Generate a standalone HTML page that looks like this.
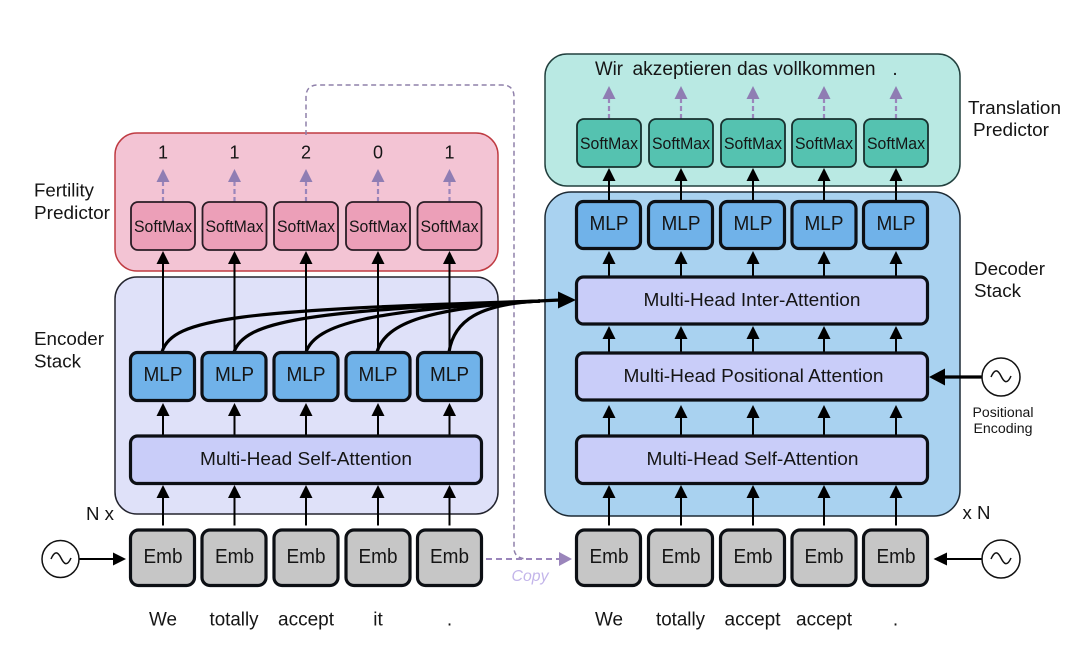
<!DOCTYPE html>
<html><head><meta charset="utf-8"><style>
html,body{margin:0;padding:0;background:#fff}
svg{display:block}
text{font-family:"Liberation Sans",Arial,sans-serif;fill:#151515;text-anchor:middle;dominant-baseline:central}
.l{text-anchor:start}
</style></head><body>
<svg width="1080" height="645" viewBox="0 0 1080 645" xmlns="http://www.w3.org/2000/svg">
<defs>
<path id="u" d="M-6.500 13L0 0L6.500 13Z" fill="#000"/>
<path id="p" d="M-6.500 13L0 0L6.500 13Z" fill="#8f7db3"/>
</defs>
<rect width="1080" height="645" fill="#fff"/>

<!-- containers -->
<rect x="115" y="133" width="383" height="138" rx="22" fill="#f3c4d4" stroke="#bf3b42" stroke-width="1.500"/>
<rect x="115" y="277" width="383" height="237" rx="22" fill="#dfe1f9" stroke="#23242e" stroke-width="1.500"/>
<rect x="545" y="54" width="415" height="132" rx="22" fill="#b9e9e3" stroke="#22403e" stroke-width="1.500"/>
<rect x="545" y="192" width="415" height="324" rx="26" fill="#a9d2f0" stroke="#1d2a35" stroke-width="1.500"/>

<!-- dashed copy path -->
<path d="M306 135V97Q306 85 318 85H502Q514 85 514 97V548Q514 558 526 559" fill="none" stroke="#8f80aa" stroke-width="1.500" stroke-dasharray="5 3.500"/>
<path d="M486 559H560" fill="none" stroke="#9a85bb" stroke-width="2" stroke-dasharray="6 4"/>
<path d="M559 552L572 559L559 566Z" fill="#9a85bb"/>

<!-- vertical arrows -->
<g stroke="#000" stroke-width="2" fill="none">
<path d="M163 260V352M234.500 260V352M306 260V352M378 260V352M449.500 260V352"/>
<path d="M163 412V436M234.500 412V436M306 412V436M378 412V436M449.500 412V436"/>
<path d="M163 495V525.500M234.500 495V525.500M306 495V525.500M378 495V525.500M449.500 495V525.500"/>
<path d="M609 178V202M681 178V202M753 178V202M824 178V202M896 178V202"/>
<path d="M609 260V277M681 260V277M753 260V277M824 260V277M896 260V277"/>
<path d="M609 336V353M681 336V353M753 336V353M824 336V353M896 336V353"/>
<path d="M609 415V436M681 415V436M753 415V436M824 415V436M896 415V436"/>
<path d="M609 495V525.500M681 495V525.500M753 495V525.500M824 495V525.500M896 495V525.500"/>
<path d="M79 559H115M947 559H982"/>
</g>
<!-- purple dashes -->
<g stroke="#9a85bb" stroke-width="2.200" fill="none" stroke-dasharray="5 3">
<path d="M163 181V202M234.500 181V202M306 181V202M378 181V202M449.500 181V202"/>
<path d="M609 98V119M681 98V119M753 98V119M824 98V119M896 98V119"/>
</g>

<!-- curves -->
<g stroke="#000" stroke-width="3.200" fill="none">
<path d="M162 352C172 318 240 310 540 301"/>
<path d="M234 352C245 322 300 311 540 301"/>
<path d="M306 352C316 324 370 310 540 301"/>
<path d="M377 352C386 322 430 308 540 301"/>
<path d="M449 352C454 320 480 304 540 301"/>
<path d="M538 301L560 300"/>
<path d="M944 377H982"/>
</g>
<path d="M558 291.500L576 300L558 308.500Z" fill="#000"/>
<path d="M929 377L945 368.500V385.500Z" fill="#000"/>
<path d="M113 552.500L126 559L113 565.500Z" fill="#000"/>
<path d="M933.500 559L947 552.500V565.500Z" fill="#000"/>

<!-- arrowheads -->
<g>
<use href="#u" x="163" y="251"/><use href="#u" x="234.500" y="251"/><use href="#u" x="306" y="251"/><use href="#u" x="378" y="251"/><use href="#u" x="449.500" y="251"/>
<use href="#u" x="163" y="403"/><use href="#u" x="234.500" y="403"/><use href="#u" x="306" y="403"/><use href="#u" x="378" y="403"/><use href="#u" x="449.500" y="403"/>
<use href="#u" x="163" y="485"/><use href="#u" x="234.500" y="485"/><use href="#u" x="306" y="485"/><use href="#u" x="378" y="485"/><use href="#u" x="449.500" y="485"/>
<use href="#u" x="609" y="168"/><use href="#u" x="681" y="168"/><use href="#u" x="753" y="168"/><use href="#u" x="824" y="168"/><use href="#u" x="896" y="168"/>
<use href="#u" x="609" y="251"/><use href="#u" x="681" y="251"/><use href="#u" x="753" y="251"/><use href="#u" x="824" y="251"/><use href="#u" x="896" y="251"/>
<use href="#u" x="609" y="326"/><use href="#u" x="681" y="326"/><use href="#u" x="753" y="326"/><use href="#u" x="824" y="326"/><use href="#u" x="896" y="326"/>
<use href="#u" x="609" y="405"/><use href="#u" x="681" y="405"/><use href="#u" x="753" y="405"/><use href="#u" x="824" y="405"/><use href="#u" x="896" y="405"/>
<use href="#u" x="609" y="485"/><use href="#u" x="681" y="485"/><use href="#u" x="753" y="485"/><use href="#u" x="824" y="485"/><use href="#u" x="896" y="485"/>
<use href="#p" x="163" y="169"/><use href="#p" x="234.500" y="169"/><use href="#p" x="306" y="169"/><use href="#p" x="378" y="169"/><use href="#p" x="449.500" y="169"/>
<use href="#p" x="609" y="86"/><use href="#p" x="681" y="86"/><use href="#p" x="753" y="86"/><use href="#p" x="824" y="86"/><use href="#p" x="896" y="86"/>
</g>

<!-- pink softmax -->
<g fill="#ec9fb8" stroke="#2a1c25" stroke-width="1.800">
<rect x="131" y="202" width="64" height="48" rx="7"/><rect x="202.500" y="202" width="64" height="48" rx="7"/><rect x="274" y="202" width="64" height="48" rx="7"/><rect x="346" y="202" width="64" height="48" rx="7"/><rect x="417.500" y="202" width="64" height="48" rx="7"/>
</g>
<!-- teal softmax -->
<g fill="#55c2b0" stroke="#17302e" stroke-width="1.800">
<rect x="577" y="119" width="64" height="48" rx="7"/><rect x="649" y="119" width="64" height="48" rx="7"/><rect x="721" y="119" width="64" height="48" rx="7"/><rect x="792" y="119" width="64" height="48" rx="7"/><rect x="864" y="119" width="64" height="48" rx="7"/>
</g>
<!-- MLP -->
<g fill="#70b2e9" stroke="#0c0f14" stroke-width="3.200">
<rect x="130.500" y="352.500" width="64" height="48" rx="7"/><rect x="202" y="352.500" width="64" height="48" rx="7"/><rect x="274" y="352.500" width="64" height="48" rx="7"/><rect x="346" y="352.500" width="64" height="48" rx="7"/><rect x="417.500" y="352.500" width="64" height="48" rx="7"/>
<rect x="576.500" y="201.500" width="64" height="47" rx="7"/><rect x="648.500" y="201.500" width="64" height="47" rx="7"/><rect x="720.500" y="201.500" width="64" height="47" rx="7"/><rect x="792" y="201.500" width="64" height="47" rx="7"/><rect x="863.500" y="201.500" width="64" height="47" rx="7"/>
</g>
<!-- attention -->
<g fill="#c9cdf9" stroke="#0c0f14" stroke-width="3.200">
<rect x="130.500" y="436" width="351" height="47.500" rx="7"/>
<rect x="576.500" y="277" width="351" height="47" rx="7"/>
<rect x="576.500" y="353" width="351" height="47" rx="7"/>
<rect x="576.500" y="436" width="351" height="47.500" rx="7"/>
</g>
<!-- Emb -->
<g fill="#c6c6c6" stroke="#0c0f14" stroke-width="3.200">
<rect x="130.500" y="530" width="64" height="55.500" rx="8"/><rect x="202" y="530" width="64" height="55.500" rx="8"/><rect x="274" y="530" width="64" height="55.500" rx="8"/><rect x="346" y="530" width="64" height="55.500" rx="8"/><rect x="417.500" y="530" width="64" height="55.500" rx="8"/>
<rect x="576.500" y="530" width="64" height="55.500" rx="8"/><rect x="648.500" y="530" width="64" height="55.500" rx="8"/><rect x="720.500" y="530" width="64" height="55.500" rx="8"/><rect x="792" y="530" width="64" height="55.500" rx="8"/><rect x="863.500" y="530" width="64" height="55.500" rx="8"/>
</g>

<!-- circles -->
<g fill="#fff" stroke="#111" stroke-width="1.500">
<circle cx="60.500" cy="559" r="18.500"/><circle cx="1001" cy="559" r="19"/><circle cx="1001" cy="377" r="19"/>
</g>
<g fill="none" stroke="#111" stroke-width="1.500">
<path d="M51 559C55 550 58 552 61 558S67 567 71 558"/>
<path d="M991 559C995 550 998 552 1001 558S1007 567 1011 558"/>
<path d="M991 377C995 368 998 370 1001 376S1007 385 1011 376"/>
</g>

<!-- text -->
<g font-size="16.500">
<text x="163" y="227" textLength="58" lengthAdjust="spacingAndGlyphs">SoftMax</text>
<text x="234.500" y="227" textLength="58" lengthAdjust="spacingAndGlyphs">SoftMax</text>
<text x="306" y="227" textLength="58" lengthAdjust="spacingAndGlyphs">SoftMax</text>
<text x="378" y="227" textLength="58" lengthAdjust="spacingAndGlyphs">SoftMax</text>
<text x="449.500" y="227" textLength="58" lengthAdjust="spacingAndGlyphs">SoftMax</text>
<text x="609" y="144" textLength="58" lengthAdjust="spacingAndGlyphs">SoftMax</text>
<text x="681" y="144" textLength="58" lengthAdjust="spacingAndGlyphs">SoftMax</text>
<text x="753" y="144" textLength="58" lengthAdjust="spacingAndGlyphs">SoftMax</text>
<text x="824" y="144" textLength="58" lengthAdjust="spacingAndGlyphs">SoftMax</text>
<text x="896" y="144" textLength="58" lengthAdjust="spacingAndGlyphs">SoftMax</text>
</g>
<g font-size="20">
<text x="163" y="375" textLength="39" lengthAdjust="spacingAndGlyphs">MLP</text>
<text x="234.500" y="375" textLength="39" lengthAdjust="spacingAndGlyphs">MLP</text>
<text x="306" y="375" textLength="39" lengthAdjust="spacingAndGlyphs">MLP</text>
<text x="378" y="375" textLength="39" lengthAdjust="spacingAndGlyphs">MLP</text>
<text x="449.500" y="375" textLength="39" lengthAdjust="spacingAndGlyphs">MLP</text>
<text x="609" y="224" textLength="39" lengthAdjust="spacingAndGlyphs">MLP</text>
<text x="681" y="224" textLength="39" lengthAdjust="spacingAndGlyphs">MLP</text>
<text x="753" y="224" textLength="39" lengthAdjust="spacingAndGlyphs">MLP</text>
<text x="824" y="224" textLength="39" lengthAdjust="spacingAndGlyphs">MLP</text>
<text x="896" y="224" textLength="39" lengthAdjust="spacingAndGlyphs">MLP</text>
<text x="163" y="557" textLength="39" lengthAdjust="spacingAndGlyphs">Emb</text>
<text x="234.500" y="557" textLength="39" lengthAdjust="spacingAndGlyphs">Emb</text>
<text x="306" y="557" textLength="39" lengthAdjust="spacingAndGlyphs">Emb</text>
<text x="378" y="557" textLength="39" lengthAdjust="spacingAndGlyphs">Emb</text>
<text x="449.500" y="557" textLength="39" lengthAdjust="spacingAndGlyphs">Emb</text>
<text x="609" y="557" textLength="39" lengthAdjust="spacingAndGlyphs">Emb</text>
<text x="681" y="557" textLength="39" lengthAdjust="spacingAndGlyphs">Emb</text>
<text x="753" y="557" textLength="39" lengthAdjust="spacingAndGlyphs">Emb</text>
<text x="824" y="557" textLength="39" lengthAdjust="spacingAndGlyphs">Emb</text>
<text x="896" y="557" textLength="39" lengthAdjust="spacingAndGlyphs">Emb</text>
</g>
<g font-size="18.500">
<text x="306" y="458.500" textLength="212" lengthAdjust="spacingAndGlyphs">Multi-Head Self-Attention</text>
<text x="752" y="299.500" textLength="217" lengthAdjust="spacingAndGlyphs">Multi-Head Inter-Attention</text>
<text x="753.500" y="375.500" textLength="260" lengthAdjust="spacingAndGlyphs">Multi-Head Positional Attention</text>
<text x="752.500" y="458.500" textLength="212" lengthAdjust="spacingAndGlyphs">Multi-Head Self-Attention</text>
</g>
<g font-size="18">
<text x="163" y="152.500">1</text><text x="234.500" y="152.500">1</text><text x="306" y="152.500">2</text><text x="378" y="152.500">0</text><text x="449.500" y="152.500">1</text>
</g>
<g font-size="19">
<text x="609" y="69.500" textLength="28" lengthAdjust="spacingAndGlyphs">Wir</text>
<text x="754" y="69.500" textLength="243" lengthAdjust="spacingAndGlyphs">akzeptieren das vollkommen</text>
<text x="895" y="69.500">.</text>
<text x="163" y="620" textLength="28" lengthAdjust="spacingAndGlyphs">We</text>
<text x="234" y="620" textLength="49" lengthAdjust="spacingAndGlyphs">totally</text>
<text x="306" y="620" textLength="56" lengthAdjust="spacingAndGlyphs">accept</text>
<text x="378" y="620">it</text>
<text x="449.500" y="620">.</text>
<text x="609" y="620" textLength="28" lengthAdjust="spacingAndGlyphs">We</text>
<text x="680.500" y="620" textLength="49" lengthAdjust="spacingAndGlyphs">totally</text>
<text x="752.500" y="620" textLength="56" lengthAdjust="spacingAndGlyphs">accept</text>
<text x="824" y="620" textLength="56" lengthAdjust="spacingAndGlyphs">accept</text>
<text x="895.500" y="620">.</text>
</g>
<g font-size="18.500">
<text class="l" x="34" y="190" textLength="60" lengthAdjust="spacingAndGlyphs">Fertility</text>
<text class="l" x="34" y="212.500" textLength="76" lengthAdjust="spacingAndGlyphs">Predictor</text>
<text class="l" x="34" y="338.500" textLength="70" lengthAdjust="spacingAndGlyphs">Encoder</text>
<text class="l" x="34" y="361" textLength="47" lengthAdjust="spacingAndGlyphs">Stack</text>
<text class="l" x="86" y="513.500" textLength="28" lengthAdjust="spacingAndGlyphs">N x</text>
<text class="l" x="962.500" y="512.500" textLength="28" lengthAdjust="spacingAndGlyphs">x N</text>
<text class="l" x="968" y="107.500" textLength="93" lengthAdjust="spacingAndGlyphs">Translation</text>
<text class="l" x="973" y="129.500" textLength="76" lengthAdjust="spacingAndGlyphs">Predictor</text>
<text class="l" x="974" y="268.500" textLength="71" lengthAdjust="spacingAndGlyphs">Decoder</text>
<text class="l" x="974" y="290.500" textLength="47" lengthAdjust="spacingAndGlyphs">Stack</text>
</g>
<g font-size="13.500">
<text x="1003" y="412.500" textLength="61" lengthAdjust="spacingAndGlyphs">Positional</text>
<text x="1003" y="428.500" textLength="59" lengthAdjust="spacingAndGlyphs">Encoding</text>
</g>
<text x="530" y="576.500" font-size="16" font-style="italic" style="fill:#c3b5ea" textLength="37" lengthAdjust="spacingAndGlyphs">Copy</text>
</svg>
</body></html>
